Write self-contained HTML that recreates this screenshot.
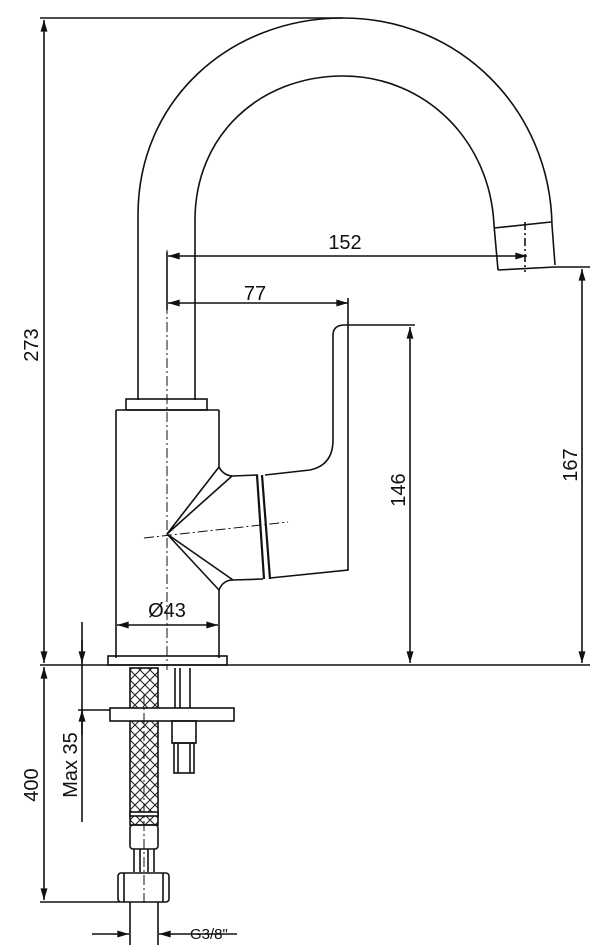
<!DOCTYPE html>
<html><head><style>
html,body{margin:0;padding:0;background:#fff;}
svg{display:block;}
text{font-family:"Liberation Sans",sans-serif;font-size:20px;fill:#111;}
</style></head><body>
<svg width="606" height="950" viewBox="0 0 606 950" xmlns="http://www.w3.org/2000/svg">
<defs>
<marker id="a" viewBox="0 0 10 6" refX="10" refY="3" markerWidth="12" markerHeight="7" orient="auto-start-reverse" markerUnits="userSpaceOnUse"><path d="M0,0 L10,3 L0,6z" fill="#111"/></marker>
<pattern id="hx" width="10" height="10" patternUnits="userSpaceOnUse"><path d="M0,0 L10,10 M10,0 L0,10" stroke="#222" stroke-width="1.1"/></pattern>
</defs>
<g fill="none" stroke="#111" stroke-width="1.6">
<path d="M138,400 L138,215 C138,100 230,18 343,18 C460,18 550,110 552,225 L555,265"/>
<path d="M195,400 L195,220 C195,135 260,76 343,76 C425,76 490,140 494,225 L498,270"/>
<path d="M494,228 L551,222 M498,270 L555,267"/>
<path d="M525,222 L525,272" stroke-dasharray="8,3,2,3"/>
<rect x="126" y="399" width="81" height="11"/>
<path d="M116,410 L116,658 M219,410 L219,467 M219,590 L219,658 M116,410 L219,410"/>
<path d="M219,467 Q223,475 232,476 L258,475 M219,590 Q223,580 233,580 L263,579"/>
<path d="M167,534 L219,467 M167,534 L232,476 M167,534 L219,590 M167,534 L233,580"/>
<path d="M257,475 L264,579 M262,475 L270,579" stroke-width="2.2"/>
<path d="M265,475 L310,470 Q333,465 333,440 L333,335 Q333,325 345,325 L348,325 L348,570 L270,578"/>
<rect x="108" y="656" width="119" height="9"/>
<path d="M40,665 L590,665"/>
<rect x="130" y="668" width="28" height="157" fill="url(#hx)"/>
<rect x="130" y="812" width="28" height="4" fill="#fff"/>
<rect x="130" y="825" width="28" height="24" rx="3"/>
<path d="M134,849 L134,872 M140,849 L140,872 M148,849 L148,872 M154,849 L154,872"/>
<rect x="118" y="873" width="51" height="29" rx="3"/>
<path d="M124,873 L124,902 M163,873 L163,902"/>
<path d="M175,668 L175,708 M190,668 L190,708 M180,668 L180,708"/>
<rect x="110" y="708" width="124" height="13" fill="#fff"/>
<rect x="172" y="721" width="24" height="22"/>
<rect x="174" y="743" width="20" height="30"/>
<path d="M178,743 L178,773 M190,743 L190,773"/>
<path d="M167,250 L167,670" stroke-dasharray="10,3,2,3" stroke-width="1"/>
<path d="M144,538 L288,522" stroke-dasharray="10,3,2,3" stroke-width="1"/>
<path d="M144,695 L144,905" stroke-dasharray="10,3,2,3" stroke-width="1"/>
<path d="M40,18 L343,18"/>
<path d="M44,20 L44,663" marker-start="url(#a)" marker-end="url(#a)"/>
<path d="M44,667 L44,900" marker-start="url(#a)" marker-end="url(#a)"/>
<path d="M40,902 L120,902"/>
<path d="M167,252 L167,310"/>
<path d="M168,256 L527,256" marker-start="url(#a)" marker-end="url(#a)"/>
<path d="M168,303 L348,303" marker-start="url(#a)" marker-end="url(#a)"/>
<path d="M348,298 L348,325"/>
<path d="M348,325 L415,325"/>
<path d="M410,327 L410,663" marker-start="url(#a)" marker-end="url(#a)"/>
<path d="M555,267 L590,267"/>
<path d="M582,269 L582,663" marker-start="url(#a)" marker-end="url(#a)"/>
<path d="M117,625 L218,625" marker-start="url(#a)" marker-end="url(#a)"/>
<path d="M82,622 L82,822"/>
<path d="M82,640 L82,663" marker-end="url(#a)"/>
<path d="M82,735 L82,710" marker-end="url(#a)"/>
<path d="M78,710 L110,710"/>
<path d="M130,902 L130,945 M158,902 L158,945"/>
<path d="M92,934 L129,934" marker-end="url(#a)"/>
<path d="M237,934 L159,934" marker-end="url(#a)"/>
</g>
<text x="345" y="249" text-anchor="middle">152</text>
<text x="255" y="300" text-anchor="middle">77</text>
<text x="167" y="617" text-anchor="middle">Ø43</text>
<text x="190" y="939" style="font-size:15px">G3/8"</text>
<text transform="translate(38,345) rotate(-90)" text-anchor="middle">273</text>
<text transform="translate(38,785) rotate(-90)" text-anchor="middle">400</text>
<text transform="translate(77,765) rotate(-90)" text-anchor="middle">Max 35</text>
<text transform="translate(405,490) rotate(-90)" text-anchor="middle">146</text>
<text transform="translate(577,465) rotate(-90)" text-anchor="middle">167</text>
</svg>
</body></html>
